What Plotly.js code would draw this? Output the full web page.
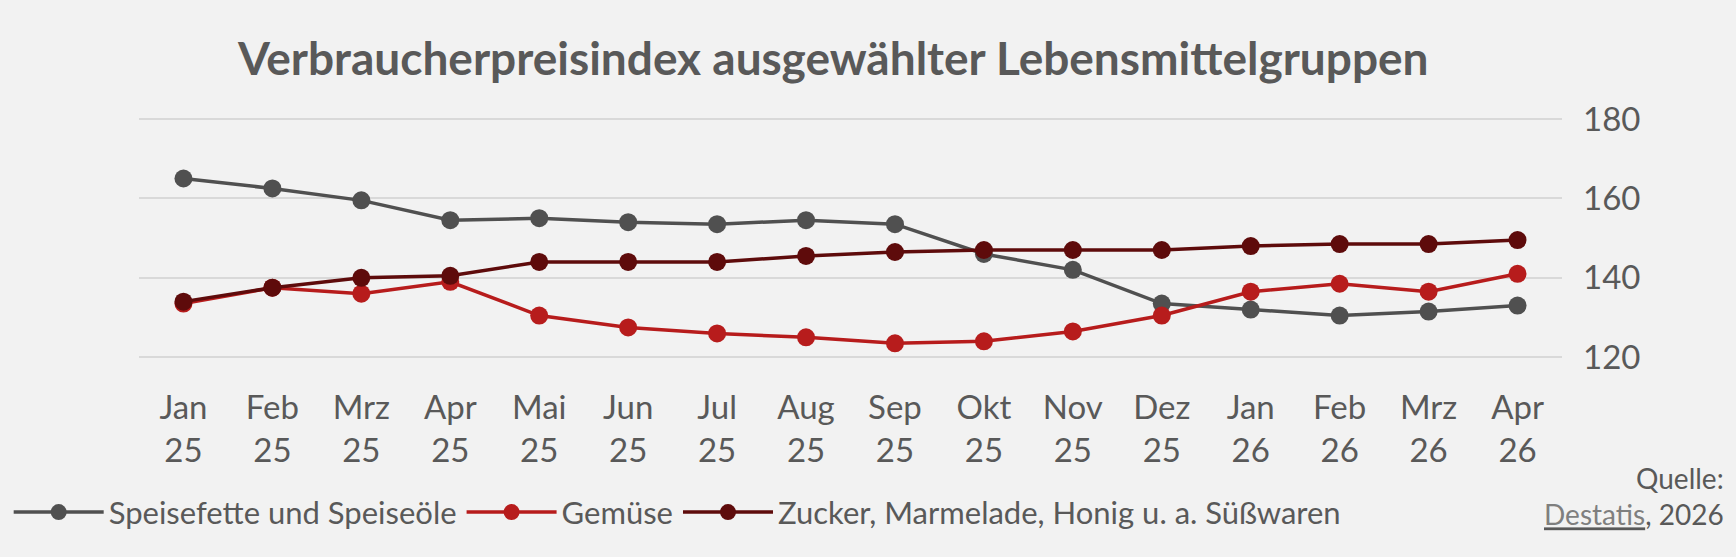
<!DOCTYPE html>
<html>
<head>
<meta charset="utf-8">
<script src="https://cdn.plot.ly/plotly-3.0.1.min.js"></script>
<style>body{margin:0;background:#f2f2f2}</style>
</head>
<body>
<div id="plot" style="width:1736px;height:557px"></div>
<script>
var months = ["Jan<br>25","Feb<br>25","Mrz<br>25","Apr<br>25","Mai<br>25","Jun<br>25","Jul<br>25","Aug<br>25","Sep<br>25","Okt<br>25","Nov<br>25","Dez<br>25","Jan<br>26","Feb<br>26","Mrz<br>26","Apr<br>26"]
var fette = [165, 162.5, 159.5, 154.5, 155, 154, 153.5, 154.5, 153.5, 146, 142, 133.5, 132, 130.5, 131.5, 133]
var gemuese = [133.5, 137.5, 136, 139, 130.5, 127.5, 126, 125, 123.5, 124, 126.5, 130.5, 136.5, 138.5, 136.5, 141]
var zucker = [134, 137.5, 140, 140.5, 144, 144, 144, 145.5, 146.5, 147, 147, 147, 148, 148.5, 148.5, 149.5]

var names = ["Speisefette und Speiseöle", "Gemüse", "Zucker, Marmelade, Honig u. a. Süßwaren"]
var colors = ["#505050", "#b71c1c", "#5e0b0b"]
var series = [fette, gemuese, zucker]

var data = []
for (let i = 0; i < series.length; i++){
    data.push({
        x: months,
        y: series[i],
        name: names[i],
        type: "scatter",
        mode: "lines+markers",
        line: {color: colors[i], width: 3.5},
        marker: {color: colors[i], size: 18}
    })
}

var layout = {
    paper_bgcolor: "#f2f2f2",
    plot_bgcolor: "#f2f2f2",
    font: {family: "Lato", color: "#595959", size: 33},
    margin: {l: 139, r: 174, t: 111, b: 168},
    title: {text: "<b>Verbraucherpreisindex ausgewählter Lebensmittelgruppen</b>", font: {size: 46, color: "#595959", weight: 800}, x: 0.48, xanchor: "center", y: 0.895, yanchor: "middle"},
    xaxis: {range: [-0.5, 15.5], showgrid: false, zeroline: false, showline: false, ticks: "", tickfont: {size: 33}, ticklabelstandoff: -4},
    yaxis: {side: "right", range: [112, 182], tickvals: [120, 140, 160, 180], gridcolor: "#d9d9d9", gridwidth: 2, zeroline: false, tickfont: {size: 33}, ticklabelstandoff: 20},
    showlegend: true,
    legend: {orientation: "h", x: 0.005, xref: "container", y: 0.08, yref: "container", yanchor: "middle", font: {size: 31}, bgcolor: "rgba(0,0,0,0)", itemwidth: 90},
    annotations: [{
        text: "Quelle:<br><span style='text-decoration:underline'><a href='https://www.destatis.de' style='color:#7f7f7f'>Destatis</a></span>, 2026",
        xref: "paper", yref: "paper", x: 1.115, y: -0.25, xanchor: "right", yanchor: "top",
        align: "right", showarrow: false, font: {size: 28, color: "#595959"}
    }]
}

Plotly.newPlot("plot", data, layout, {displayModeBar: false})
</script>
</body>
</html>
